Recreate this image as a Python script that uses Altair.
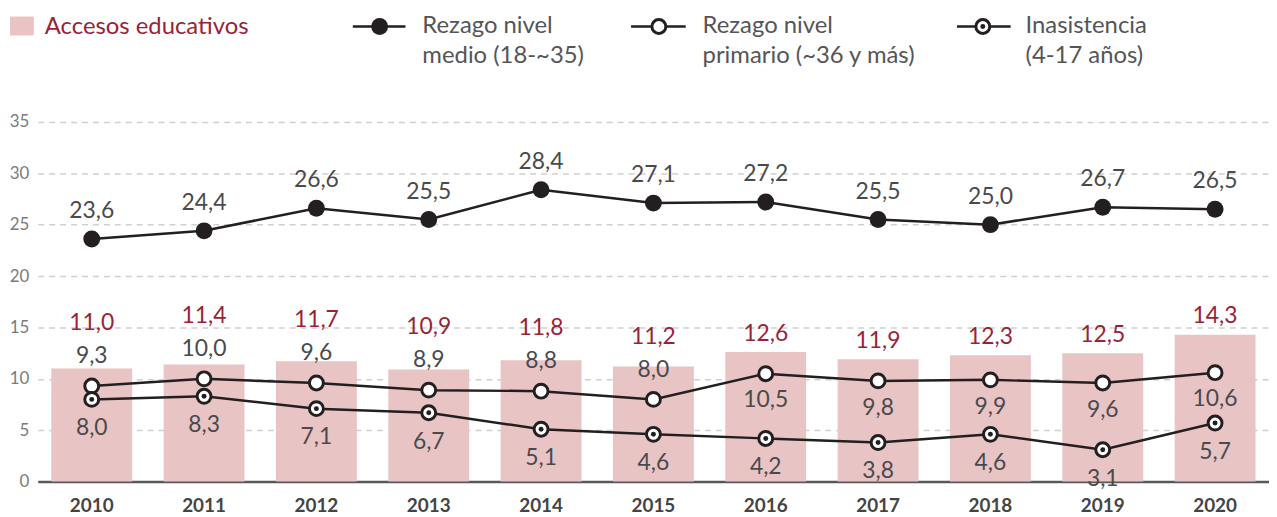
import altair as alt
import pandas as pd

years = ["2010", "2011", "2012", "2013", "2014", "2015", "2016", "2017", "2018", "2019", "2020"]
accesos = [11.0, 11.4, 11.7, 10.9, 11.8, 11.2, 12.6, 11.9, 12.3, 12.5, 14.3]
medio = [23.6, 24.4, 26.6, 25.5, 28.4, 27.1, 27.2, 25.5, 25.0, 26.7, 26.5]
primario = [9.3, 10.0, 9.6, 8.9, 8.8, 8.0, 10.5, 9.8, 9.9, 9.6, 10.6]
inasistencia = [8.0, 8.3, 7.1, 6.7, 5.1, 4.6, 4.2, 3.8, 4.6, 3.1, 5.7]
y_ticks = [0, 5, 10, 15, 20, 25, 30, 35]

FONT = "Lato"
BAR = "#e8c4c5"
RED = "#9a2236"
INK = "#231f20"
GREY_TXT = "#4a4a4c"

def fmt(v):
    return f"{v:.1f}".replace(".", ",")

df = pd.DataFrame({
    "year": years,
    "accesos": accesos,
    "medio": medio,
    "primario": primario,
    "inasistencia": inasistencia,
})
for c in ["accesos", "medio", "primario", "inasistencia"]:
    df[c + "_lbl"] = df[c].map(fmt)

base = alt.Chart(df)

SCALE_X = alt.Scale(paddingInner=0.28, paddingOuter=0.12)
X = alt.X("year:N", sort=years, title=None, scale=SCALE_X)

def yq(field):
    return alt.Y(f"{field}:Q", scale=alt.Scale(domain=[0, 35]), title=None)

bars = base.mark_bar(color=BAR).encode(
    x=alt.X("year:N", sort=years, title=None, scale=SCALE_X,
            axis=alt.Axis(labelAngle=0, labelFontWeight="bold", labelFontSize=19,
                          labelColor="#444444", labelPadding=15, ticks=False, tickSize=0,
                          domainColor="#58585a", domainWidth=2.5, grid=False)),
    y=alt.Y("accesos:Q", scale=alt.Scale(domain=[0, 35]), title=None,
            axis=alt.Axis(values=y_ticks, domain=False, ticks=False, labelFontSize=17,
                          labelColor="#7a7a7c", labelPadding=9, grid=True,
                          gridDash=[6, 5], gridColor="#d0d0d0", gridWidth=1.5)),
)

# red value label: above the bar, or above the primario label when that one sits above the line
bar_lbl = base.transform_calculate(
    lbl_y="toNumber(datum.year) <= 2015 ? max(datum.accesos + 1.8, datum.primario + 6.1) : datum.accesos + 1.8"
).mark_text(font=FONT, fontSize=23, color=RED, baseline="middle").encode(
    x=X, y=yq("lbl_y"), text="accesos_lbl:N"
)

line_kw = dict(color=INK, strokeWidth=2.5)
l_medio = base.mark_line(**line_kw).encode(x=X, y=yq("medio"))
p_medio = base.mark_point(shape="circle", filled=True, size=289, color=INK, opacity=1).encode(
    x=X, y=yq("medio"))
t_medio = base.mark_text(dy=-28, font=FONT, fontSize=23, color=GREY_TXT, baseline="middle").encode(
    x=X, y=yq("medio"), text="medio_lbl:N")

l_prim = base.mark_line(**line_kw).encode(x=X, y=yq("primario"))
p_prim = base.mark_point(shape="circle", filled=True, fill="white", stroke=INK, strokeWidth=3,
                         size=196, opacity=1).encode(x=X, y=yq("primario"))
t_prim_up = base.transform_filter("toNumber(datum.year) <= 2015").mark_text(
    dy=-30, font=FONT, fontSize=23, color=GREY_TXT, baseline="middle").encode(
    x=X, y=yq("primario"), text="primario_lbl:N")
t_prim_dn = base.transform_filter("toNumber(datum.year) > 2015").mark_text(
    dy=27, font=FONT, fontSize=23, color=GREY_TXT, baseline="middle").encode(
    x=X, y=yq("primario"), text="primario_lbl:N")

l_ina = base.mark_line(**line_kw).encode(x=X, y=yq("inasistencia"))
p_ina = base.mark_point(shape="circle", filled=True, fill="white", stroke=INK, strokeWidth=3,
                        size=196, opacity=1).encode(x=X, y=yq("inasistencia"))
d_ina = base.mark_point(shape="circle", filled=True, size=25, color=INK, opacity=1).encode(
    x=X, y=yq("inasistencia"))
t_ina = base.mark_text(dy=29, font=FONT, fontSize=23, color=GREY_TXT, baseline="middle").encode(
    x=X, y=yq("inasistencia"), text="inasistencia_lbl:N")

# ---- legend (drawn above the plot area; plot origin sits at page (38,121)) ----
OX, OY = 38, 121
one = pd.DataFrame({"k": [0]})
leg = []
leg.append(alt.Chart(one).mark_rect(color=BAR).encode(
    x=alt.value(10 - OX), x2=alt.value(34 - OX), y=alt.value(15 - OY), y2=alt.value(34 - OY)))
leg.append(alt.Chart(one).mark_text(text="Accesos educativos", align="left", baseline="alphabetic",
                                    font=FONT, fontSize=24, color=RED).encode(
    x=alt.value(45 - OX), y=alt.value(33 - OY)))

items = [
    (355, 408, 382, 425, ["Rezago nivel", "medio (18-~35)"], "filled"),
    (635, 690, 663, 707, ["Rezago nivel", "primario (~36 y más)"], "open"),
    (963, 1017, 989, 1032, ["Inasistencia", "(4-17 años)"], "dot"),
]
for x1, x2, cx, tx, txt, kind in items:
    leg.append(alt.Chart(one).mark_rule(color=INK, strokeWidth=2.5).encode(
        x=alt.value(x1 - OX), x2=alt.value(x2 - OX), y=alt.value(25 - OY)))
    if kind == "filled":
        leg.append(alt.Chart(one).mark_point(shape="circle", filled=True, size=289, color=INK, opacity=1).encode(
            x=alt.value(cx - OX), y=alt.value(25 - OY)))
    else:
        leg.append(alt.Chart(one).mark_point(shape="circle", filled=True, fill="white", stroke=INK,
                                             strokeWidth=3, size=196, opacity=1).encode(
            x=alt.value(cx - OX), y=alt.value(25 - OY)))
        if kind == "dot":
            leg.append(alt.Chart(one).mark_point(shape="circle", filled=True, size=25, color=INK, opacity=1).encode(
                x=alt.value(cx - OX), y=alt.value(25 - OY)))
    leg.append(alt.Chart(one).mark_text(text=txt, align="left", baseline="alphabetic", lineHeight=30,
                                        font=FONT, fontSize=24, color="#555557").encode(
        x=alt.value(tx - OX), y=alt.value(32 - OY)))

chart = alt.layer(
    bars, l_medio, l_prim, l_ina, p_medio, p_prim, p_ina, d_ina,
    bar_lbl, t_medio, t_prim_up, t_prim_dn, t_ina, *leg
).properties(
    width=1239, height=362,
    autosize=alt.AutoSizeParams(type="none"),
    padding={"left": 30, "top": 113, "right": 0, "bottom": 34},
).configure(font=FONT).configure_view(stroke=None).configure_axis(labelFont=FONT)

chart.save("out.html", embed_options={"renderer": "svg", "actions": False})
